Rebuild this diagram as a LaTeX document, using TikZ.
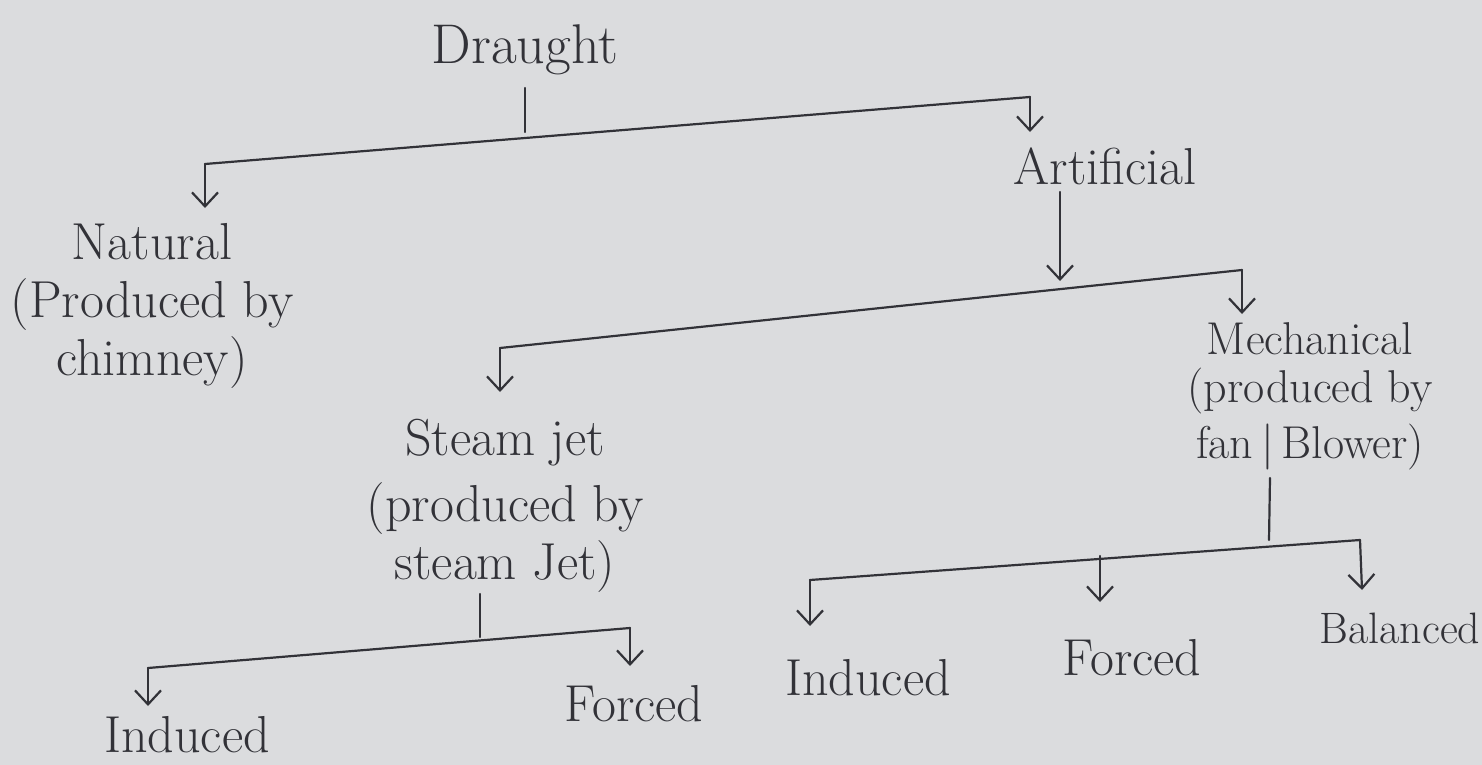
\documentclass[tikz,border=0pt]{standalone}
\usetikzlibrary{arrows.meta}
\definecolor{paper}{RGB}{219,220,222}
\definecolor{ink}{RGB}{50,50,56}
\tikzset{
  lbl/.style={text=ink, align=center, inner sep=0pt, font=\fontsize{26}{29}\selectfont},
  wire/.style={draw=ink, line width=1.1pt, line cap=round, line join=round},
  arr/.style={wire, -{Straight Barb[length=7pt,width=13pt,line width=1.1pt]}}
}
\begin{document}
\begin{tikzpicture}[x=0.5pt,y=-0.5pt]
\fill[paper] (0,0) rectangle (1482,765);
\useasboundingbox (0,0) rectangle (1482,765);

% labels
\node[lbl, font=\fontsize{28}{31}\selectfont] (draught) at (525,50) {Draught};
\node[lbl] (artificial) at (1105,166) {Artificial};
\node[lbl] (natural) at (152,306) {Natural\\(Produced by\\chimney)};
\node[lbl, font=\fontsize{23}{21}\selectfont] (mech) at (1310,396) {Mechanical\\[3pt](produced by\\[4pt]fan\,|\,Blower)};
\node[lbl] (steam) at (505,506) {Steam jet\\[4pt](produced by\\steam Jet)};
\node[lbl] (sind) at (187,735) {Induced};
\node[lbl] (sfor) at (634,704) {Forced};
\node[lbl] (mind) at (868,678) {Induced};
\node[lbl] (mfor) at (1132,658) {Forced};
\node[lbl, font=\fontsize{22}{26}\selectfont] (mbal) at (1400,628) {Balanced};

% level 1
\coordinate (d0) at (525,88);
\coordinate (d1) at (525,132);
\coordinate (b1l) at (205,164);
\coordinate (b1r) at (1030,97);
\coordinate (natTip) at (205,208);
\coordinate (artTip) at (1030,132);
\draw[wire] (d0) -- (d1);
\draw[wire] (b1l) -- (b1r);
\draw[arr] (b1l) -- (natTip);
\draw[arr] (b1r) -- (artTip);

% level 2
\coordinate (a0) at (1060,192);
\coordinate (a1) at (1060,281);
\coordinate (b2l) at (500,348);
\coordinate (b2r) at (1242,270);
\coordinate (stTip) at (500,392);
\coordinate (meTip) at (1242,314);
\draw[arr] (a0) -- (a1);
\draw[wire] (b2l) -- (b2r);
\draw[arr] (b2l) -- (stTip);
\draw[arr] (b2r) -- (meTip);

% steam jet branch
\coordinate (s0) at (480,594);
\coordinate (s1) at (480,637);
\coordinate (b3l) at (148,668);
\coordinate (b3r) at (630,628);
\coordinate (siTip) at (148,706);
\coordinate (sfTip) at (630,666);
\draw[wire] (s0) -- (s1);
\draw[wire] (b3l) -- (b3r);
\draw[arr] (b3l) -- (siTip);
\draw[arr] (b3r) -- (sfTip);

% mechanical branch
\coordinate (m0) at (1270,478);
\coordinate (m1) at (1269,540);
\coordinate (b4l) at (810,580);
\coordinate (b4m) at (1100,556);
\coordinate (b4r) at (1360,540);
\coordinate (miTip) at (810,626);
\coordinate (mfTip) at (1100,602);
\coordinate (mbTip) at (1362,590);
\draw[wire] (m0) -- (m1);
\draw[wire] (b4l) -- (b4r);
\draw[arr] (b4l) -- (miTip);
\draw[arr] (b4m) -- (mfTip);
\draw[arr] (b4r) -- (mbTip);
\end{tikzpicture}
\end{document}
